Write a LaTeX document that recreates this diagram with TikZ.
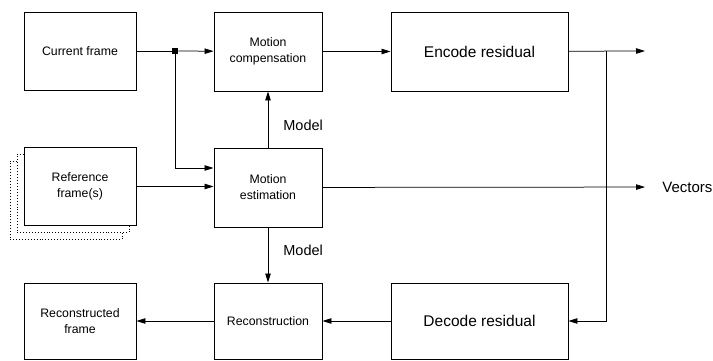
\documentclass[tikz,border=0pt]{standalone}
\usepackage{fontspec}
\setmainfont{Liberation Sans}
\usetikzlibrary{arrows.meta}

\begin{document}
\begin{tikzpicture}[>={Triangle[length=9pt,width=5.5pt]}, x=1pt, y=1pt, line width=0.75pt,
    blk/.style={draw, line width=0.95pt, fill=white, align=center, inner sep=0pt,
        minimum width=108pt, minimum height=79pt, font=\fontsize{12.3}{16}\selectfont},
    sblk/.style={blk, minimum width=112pt, minimum height=78pt},
    bblk/.style={blk, minimum width=177pt, font=\fontsize{15.5}{18}\selectfont},
    lbl/.style={anchor=west, inner sep=0pt, font=\fontsize{14.5}{17}\selectfont}]
    \useasboundingbox (0,0) rectangle (713,360);

    % 上排
    \node[sblk] (cur) at (80,309) {Current frame};
    \node[blk] (mc) at (268,308.5) {Motion\\compensation};
    \node[bblk] (enc) at (479.5,308.5) {Encode residual};
    \node[fill, inner sep=0pt, minimum size=6pt] (jn) at (175,309) {};
    \coordinate (br) at (606,309);
    \coordinate (out) at (645,309);

    % 中排
    \node[sblk, dotted, line width=0.7pt] (ref2) at (66,159.5) {};
    \node[sblk, dotted, line width=0.7pt] (ref1) at (73,166.5) {};
    \node[sblk] (ref) at (80,173.5) {Reference\\frame(s)};
    \node[blk] (me) at (268,172.5) {Motion\\estimation};
    \node[lbl, font=\fontsize{15}{18}\selectfont] (vec) at (662,173) {Vectors};

    % 下排
    \node[sblk, minimum height=76pt] (rf) at (80,39) {Reconstructed\\frame};
    \node[blk, minimum height=76pt] (rc) at (268,39) {Reconstruction};
    \node[bblk, minimum height=76pt] (dec) at (479.5,39) {Decode residual};

    \node[lbl] (m1) at (283,235) {Model};
    \node[lbl] (m2) at (283,110) {Model};

    % 连线
    \draw (cur) -- (jn);
    \draw[->] (jn) -- (mc);
    \draw[->] (jn) |- ([yshift=19.5pt]me.west);
    \draw[->] (ref) -- (ref -| me.west);
    \draw[->] (me) -- (mc);
    \draw[->] (mc) -- (enc);
    \draw[->] (enc) -- (out);
    \draw[->] (br) |- (dec);
    \draw[->, shorten >=17pt] (me) -- (vec);
    \draw[->] (me) -- (rc);
    \draw[->] (dec) -- (rc);
    \draw[->] (rc) -- (rf);
\end{tikzpicture}
\end{document}
